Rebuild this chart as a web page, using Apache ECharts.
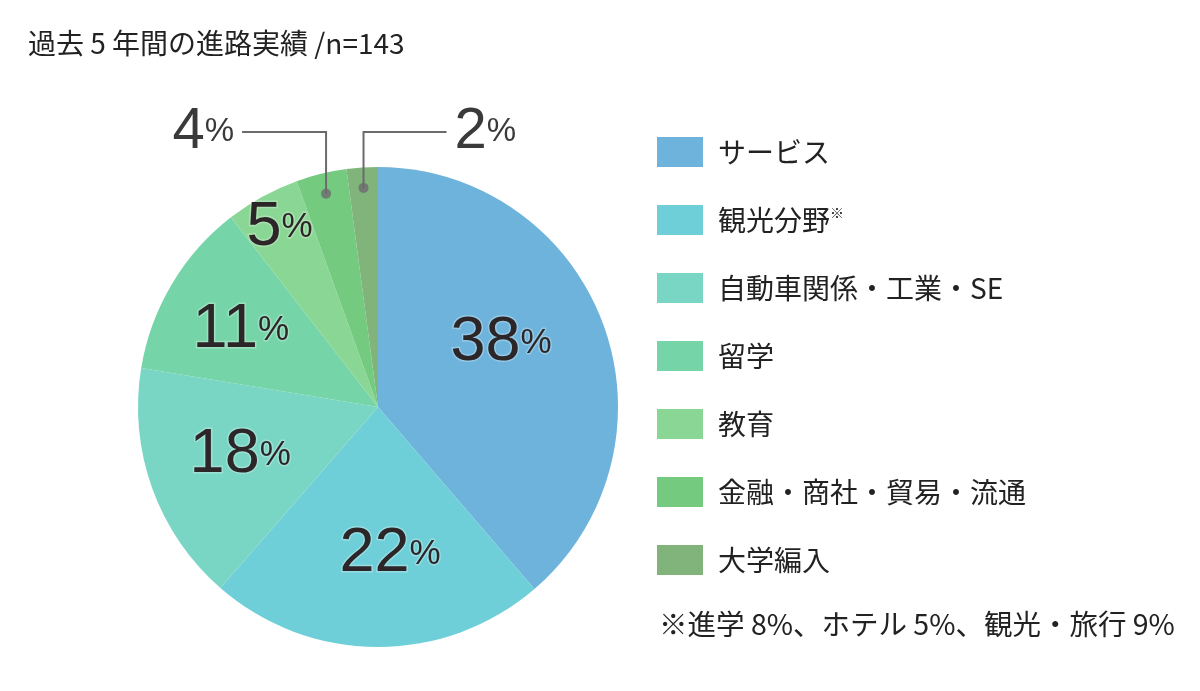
<!DOCTYPE html>
<html>
<head>
<meta charset="utf-8">
<script src="https://cdn.jsdelivr.net/npm/echarts@6/dist/echarts.min.js"></script>
<style>
html,body{margin:0;padding:0;background:#fff;}
#chart{width:1200px;height:691px;}
</style>
</head>
<body>
<div id="chart"></div>
<script>
const titleText = '過去 5 年間の進路実績 /n=143';
const footnoteText = '※進学 8%、ホテル 5%、観光・旅行 9%';
const categories = ['サービス', '観光分野※', '自動車関係・工業・SE', '留学', '教育', '金融・商社・貿易・流通', '大学編入'];
const shares = [38.7, 22.7, 16.2, 11.9, 5.0, 3.4, 2.1];
// percentages printed on the slices
const labelPercents = [38, 22, 18, 11, 5, 4, 2];
const colors = ['#6db3db', '#6fcfd8', '#79d6c4', '#76d5a8', '#8ad694', '#74cb80', '#80b47b'];
// label placement (style only)
const labelRadiusFrac = [0.578, 0.615, 0.608, 0.655, 0.852, 0, 0];
const labelAngleShift = [-7.2, -4.9, 0.6, -1.5, 0, 0, 0];
const calloutSide = [null, null, null, null, null, 'left', 'right'];

const CX = 378, CY = 407, R = 240;
const DOT_FRAC = 0.915;
const FONT_CJK = '"Noto Sans CJK JP", "Noto Sans", sans-serif';
const FONT_NUM = '"Liberation Sans", Arial, sans-serif';
const TEXT_COLOR = '#2c2628';

const total = shares.reduce((a, b) => a + b, 0);
const cumBefore = shares.map((v, i) => shares.slice(0, i).reduce((a, b) => a + b, 0));
const midValue = shares.map((v, i) => cumBefore[i] + v / 2);

function polarPoint(frac, i, shiftDeg) {
  const a = midValue[i] / total * 2 * Math.PI + (shiftDeg || 0) * Math.PI / 180;
  return [CX + frac * R * Math.sin(a), CY - frac * R * Math.cos(a)];
}

const chart = echarts.init(document.getElementById('chart'));

const mainData = categories.map((name, i) => ({
  name: name,
  value: shares[i],
  pct: labelPercents[i],
  itemStyle: { color: colors[i] },
  label: { show: calloutSide[i] === null, position: 'inside' },
  labelLine: { show: false }
}));

const calloutData = categories.map((name, i) => {
  const callout = calloutSide[i] !== null;
  return {
    name: name,
    value: shares[i],
    pct: labelPercents[i],
    itemStyle: { color: 'rgba(0,0,0,0)' },
    label: { show: callout, position: 'outside' },
    labelLine: { show: callout, lineStyle: { color: '#6d6a6e', width: 2 } }
  };
});

const dotData = shares.map((v, i) => calloutSide[i] !== null ? [DOT_FRAC, midValue[i]] : null).filter(d => d);

chart.setOption({
  animation: false,
  title: [
    { text: titleText, left: 28, top: 29, padding: 0, textStyle: { fontFamily: FONT_CJK, fontSize: 28, fontWeight: 'normal', color: '#222' } },
    { text: footnoteText, left: 659, top: 610, padding: 0, textStyle: { fontFamily: FONT_CJK, fontSize: 28.5, fontWeight: 'normal', color: '#222' } }
  ],
  legend: {
    orient: 'vertical',
    left: 657,
    top: 137,
    padding: 0,
    itemWidth: 46,
    itemHeight: 30,
    itemGap: 38,
    icon: 'rect',
    selectedMode: false,
    data: categories.map((name, i) => ({ name: name, itemStyle: { color: colors[i] } })),
    formatter: name => name.replace('※', '{sup|※}'),
    textStyle: {
      fontFamily: FONT_CJK, fontSize: 28, color: '#222', padding: [0, 0, 0, 10],
      rich: { sup: { fontFamily: FONT_CJK, fontSize: 14, color: '#222', padding: [0, 0, 14, 0] } }
    }
  },
  polar: { center: [CX, CY], radius: R },
  angleAxis: { type: 'value', min: 0, max: total, startAngle: 90, clockwise: true, show: false },
  radiusAxis: { type: 'value', min: 0, max: 1, show: false },
  series: [
    {
      type: 'pie',
      center: [CX, CY],
      radius: [0, R],
      startAngle: 90,
      clockwise: true,
      silent: true,
      z: 2,
      data: mainData,
      label: {
        formatter: p => '{n|' + p.data.pct + '}{p|%}',
        rich: {
          n: { fontSize: 63, fontFamily: FONT_NUM, color: TEXT_COLOR, lineHeight: 68, textBorderColor: 'rgba(255,255,255,0.28)', textBorderWidth: 3 },
          p: { fontSize: 35, fontFamily: FONT_NUM, color: TEXT_COLOR, lineHeight: 68, textBorderColor: 'rgba(255,255,255,0.28)', textBorderWidth: 3 }
        }
      },
      labelLayout: function (params) {
        const i = params.dataIndex;
        const pt = polarPoint(labelRadiusFrac[i], i, labelAngleShift[i]);
        return { x: pt[0], y: pt[1], align: 'center', verticalAlign: 'middle' };
      }
    },
    {
      type: 'pie',
      center: [CX, CY],
      radius: [0, R],
      startAngle: 90,
      clockwise: true,
      silent: true,
      legendHoverLink: false,
      z: 4,
      data: calloutData,
      label: {
        formatter: p => '{n|' + p.data.pct + '}{p|%}',
        rich: {
          n: { fontSize: 58, fontFamily: FONT_NUM, color: '#3a3a3a', lineHeight: 62 },
          p: { fontSize: 33, fontFamily: FONT_NUM, color: '#3a3a3a', lineHeight: 62 }
        }
      },
      labelLayout: function (params) {
        const i = params.dataIndex;
        const side = calloutSide[i];
        if (side === null) return {};
        const s = polarPoint(DOT_FRAC, i, 0);
        const ly = CY - R - 35;
        const ex = side === 'left' ? s[0] - 84 : s[0] + 83;
        const lx = side === 'left' ? ex - 8 : ex + 8;
        return {
          x: lx, y: ly, align: side === 'left' ? 'right' : 'left', verticalAlign: 'middle',
          labelLinePoints: [[s[0], s[1]], [s[0], ly], [ex, ly]]
        };
      }
    },
    {
      type: 'scatter',
      coordinateSystem: 'polar',
      symbol: 'circle',
      symbolSize: 10,
      silent: true,
      itemStyle: { color: '#6d6a6e' },
      data: dotData,
      z: 6
    }
  ]
});
</script>
</body>
</html>
